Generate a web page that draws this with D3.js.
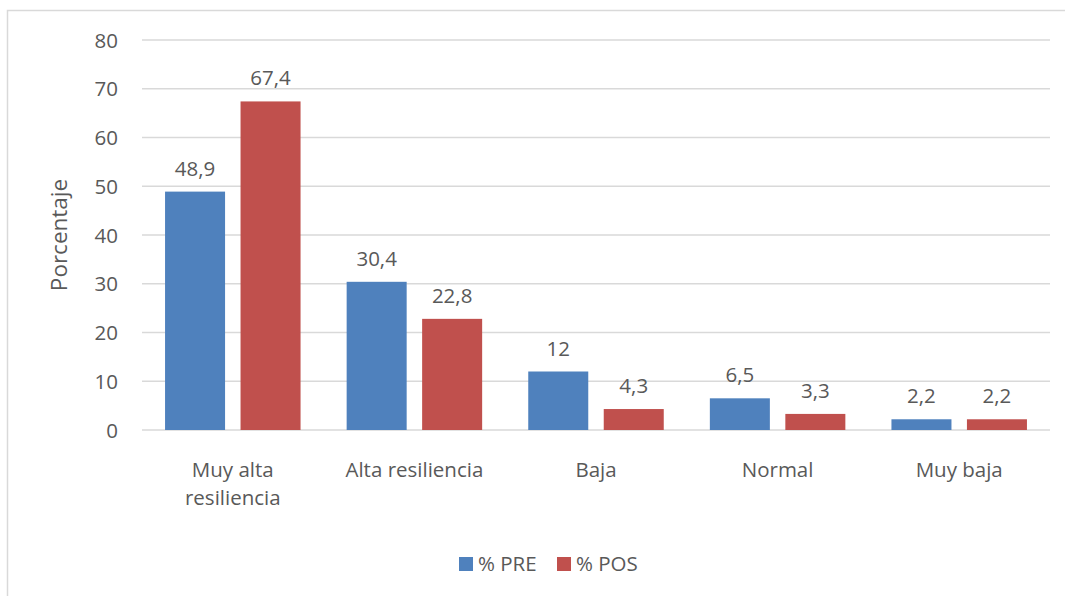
<!DOCTYPE html>
<html>
<head>
<meta charset="utf-8">
<script src="https://cdn.jsdelivr.net/npm/d3@7"></script>
<style>
  html, body { margin: 0; padding: 0; background: #fff; }
  svg { display: block; }
  text { font-family: "Open Sans", sans-serif; fill: #595959; }
</style>
</head>
<body>
<svg id="chart" width="1065" height="596"></svg>
<script>
const categories = [["Muy alta", "resiliencia"], ["Alta resiliencia"], ["Baja"], ["Normal"], ["Muy baja"]];
const seriesNames = ["% PRE", "% POS"];
const pre = [48.9, 30.4, 12, 6.5, 2.2];
const pos = [67.4, 22.8, 4.3, 3.3, 2.2];
const preLabels = ["48,9", "30,4", "12", "6,5", "2,2"];
const posLabels = ["67,4", "22,8", "4,3", "3,3", "2,2"];
const yTicks = [0, 10, 20, 30, 40, 50, 60, 70, 80];
const colors = ["#4F81BD", "#C0504D"];

(function () {
const svg = d3.select("#chart");
const pLeft = 142, pRight = 1050, pTop = 40, pBottom = 430;
const fs = 20.5;

// frame
svg.append("path").attr("d", "M7.5,596 V10.5 H1065")
  .attr("fill", "none").attr("stroke", "#d9d9d9").attr("stroke-width", 1.5);

const y = d3.scaleLinear().domain([0, 80]).range([pBottom, pTop]);
const idx = d3.range(categories.length);
const x0 = d3.scaleBand().domain(idx).range([pLeft, pRight]).padding(0);
const sideW = (x0.bandwidth() - 135.5) / 2;
const x1 = d3.scaleBand().domain([0, 1]).range([sideW, x0.bandwidth() - sideW]).paddingInner(0.205).paddingOuter(0);

// gridlines
svg.append("g").selectAll("line").data(yTicks).join("line")
  .attr("x1", pLeft).attr("x2", pRight)
  .attr("y1", d => y(d)).attr("y2", d => y(d))
  .attr("stroke", "#d9d9d9").attr("stroke-width", 1.3);

// y axis labels
const yAxis = d3.axisLeft(y).tickValues(yTicks).tickSize(0).tickPadding(0).tickFormat(d3.format("d"));
const ya = svg.append("g").attr("transform", `translate(118,0)`).call(yAxis);
ya.select(".domain").remove();
ya.selectAll("text").attr("font-size", fs).attr("fill", "#595959").style("font-family", "'Open Sans', sans-serif").attr("dy", "0.35em");

// y title
svg.append("text").attr("transform", `translate(67,${(pTop + pBottom) / 2}) rotate(-90)`)
  .attr("text-anchor", "middle").attr("font-size", 22.5).text("Porcentaje");

const series = [pre, pos];
const labels = [preLabels, posLabels];
series.forEach((vals, s) => {
  const g = svg.append("g");
  g.selectAll("rect").data(idx).join("rect")
    .attr("x", i => x0(i) + x1(s))
    .attr("width", x1.bandwidth())
    .attr("y", i => y(vals[i]))
    .attr("height", i => y(0) - y(vals[i]))
    .attr("fill", colors[s]);
  g.selectAll("text").data(idx).join("text")
    .attr("x", i => x0(i) + x1(s) + x1.bandwidth() / 2)
    .attr("y", i => y(vals[i]) - 16)
    .attr("text-anchor", "middle").attr("font-size", fs)
    .text(i => labels[s][i]);
});

// category labels
const cg = svg.append("g");
idx.forEach(i => {
  const t = cg.append("text").attr("text-anchor", "middle").attr("font-size", fs)
    .attr("x", x0(i) + x0.bandwidth() / 2).attr("y", 477);
  categories[i].forEach((line, k) => {
    t.append("tspan").attr("x", x0(i) + x0.bandwidth() / 2).attr("dy", k === 0 ? 0 : 28).text(line);
  });
});

// legend
const legendX = [459, 557];
seriesNames.forEach((n, s) => {
  svg.append("rect").attr("x", legendX[s]).attr("y", 557).attr("width", 14).attr("height", 14).attr("fill", colors[s]);
  svg.append("text").attr("x", legendX[s] + 19).attr("y", 571).attr("font-size", fs).text(n);
});
})();
</script>
</body>
</html>
